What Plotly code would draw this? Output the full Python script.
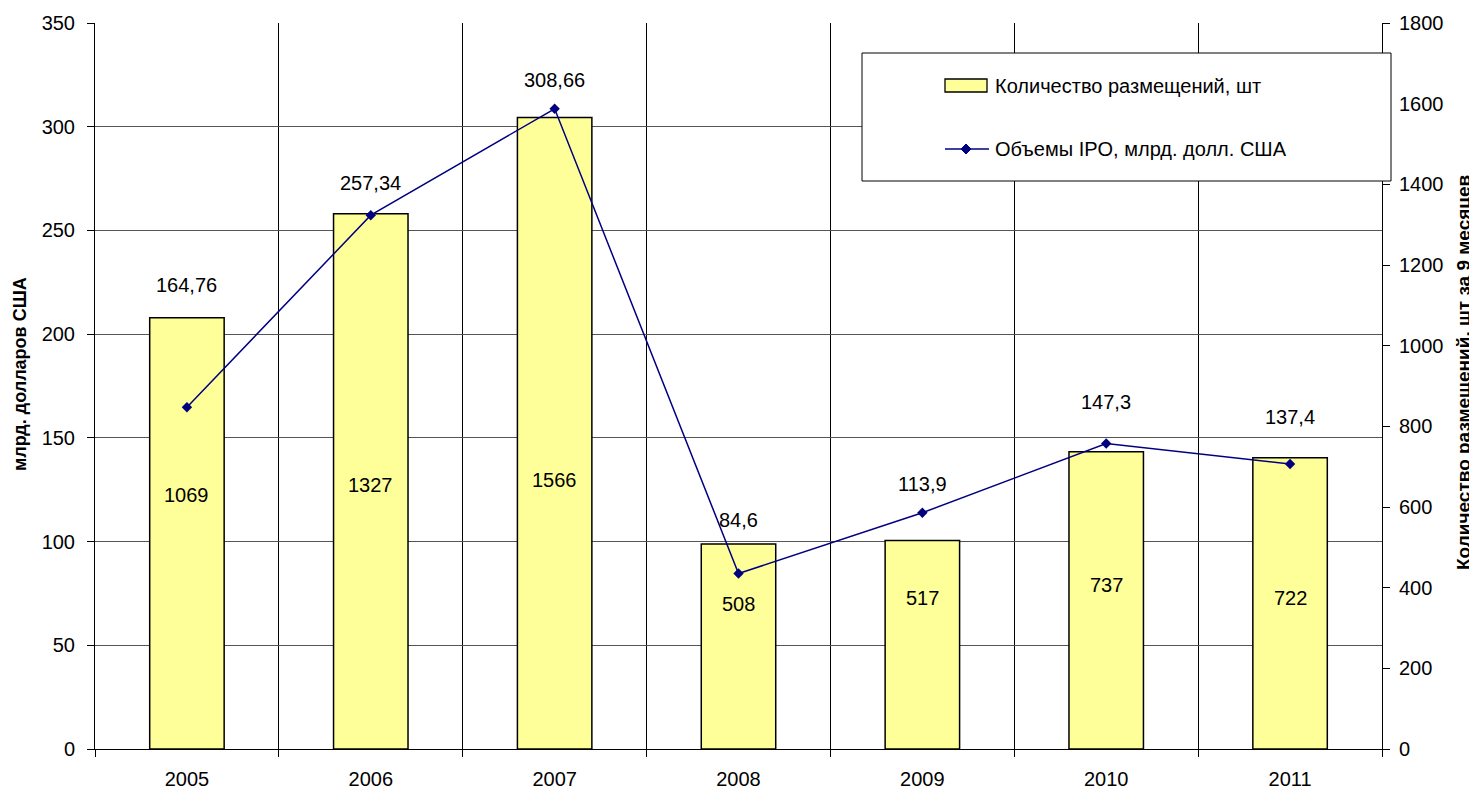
import plotly.graph_objects as go

# ---- data ----
years = ["2005", "2006", "2007", "2008", "2009", "2010", "2011"]
placements = [1069, 1327, 1566, 508, 517, 737, 722]          # right axis, bars
ipo_volume = [164.76, 257.34, 308.66, 84.6, 113.9, 147.3, 137.4]  # left axis, line
ipo_labels = ["164,76", "257,34", "308,66", "84,6", "113,9", "147,3", "137,4"]
placement_labels = ["1069", "1327", "1566", "508", "517", "737", "722"]

# label positions (left-axis units)
ipo_label_y = [223.7, 272.9, 322.5, 110.4, 127.8, 167.3, 160.1]
placement_label_y = [122.5, 127.3, 129.7, 69.9, 72.8, 79.1, 72.8]

FONT = "Liberation Sans, Arial, sans-serif"
SW, SH = 1477, 790          # screen size
OFF = 8                     # page body margin
W, H = SW - OFF, SH - OFF
L, R, T, B = 95, 1382, 23, 749   # plot area in screen pixels

def px(xp):
    return (xp - L) / (R - L)

def py(yp):
    return (B - yp) / (B - T)

fig = go.Figure()

fig.add_trace(go.Bar(
    x=years, y=placements, yaxis="y",
    marker=dict(color="#FFFF99", line=dict(color="black", width=1.5)),
    width=0.405, name="Количество размещений, шт", showlegend=False,
    hoverinfo="skip"))

fig.add_trace(go.Scatter(
    x=years, y=ipo_volume, yaxis="y2", mode="lines+markers",
    line=dict(color="#000080", width=1.5),
    marker=dict(symbol="diamond", size=8, color="#000080"),
    name="Объемы IPO, млрд. долл. США", showlegend=False, hoverinfo="skip"))

annotations = []
for i, (lab, yv) in enumerate(zip(ipo_labels, ipo_label_y)):
    annotations.append(dict(x=i, y=yv, xref="x", yref="y2", text=lab,
                            xanchor="center", yanchor="middle",
                            showarrow=False, font=dict(size=20, color="black", family=FONT)))
for i, (lab, yv) in enumerate(zip(placement_labels, placement_label_y)):
    annotations.append(dict(x=i, y=yv, xref="x", yref="y2", text=lab,
                            xanchor="center", yanchor="middle",
                            showarrow=False, font=dict(size=20, color="black", family=FONT)))

# axis titles
annotations.append(dict(x=px(20), y=py(374), xref="paper", yref="paper",
                        xanchor="center", yanchor="middle",
                        text="<b>млрд. долларов США</b>", textangle=-90, showarrow=False,
                        font=dict(size=18, color="black", family=FONT)))
annotations.append(dict(x=px(1463), y=py(373), xref="paper", yref="paper",
                        xanchor="center", yanchor="middle",
                        text="<b>Количество размещений, шт за 9 месяцев</b>", textangle=-90,
                        showarrow=False, font=dict(size=19, color="black", family=FONT)))

# legend texts
annotations.append(dict(x=px(993), y=py(86), xref="paper", yref="paper",
                        xanchor="left", yanchor="middle",
                        text="Количество размещений, шт", showarrow=False,
                        font=dict(size=20, color="black", family=FONT)))
annotations.append(dict(x=px(993), y=py(149), xref="paper", yref="paper",
                        xanchor="left", yanchor="middle",
                        text="Объемы IPO, млрд. долл. США", showarrow=False,
                        font=dict(size=20, color="black", family=FONT)))

shapes = [
    dict(type="rect", xref="paper", yref="paper", x0=px(862), x1=px(1391), y0=py(181), y1=py(53),
         fillcolor="white", line=dict(color="black", width=1)),
    dict(type="rect", xref="paper", yref="paper", x0=px(945), x1=px(987), y0=py(92), y1=py(79),
         fillcolor="#FFFF99", line=dict(color="black", width=1.3)),
    dict(type="line", xref="paper", yref="paper", x0=px(945), x1=px(989), y0=py(149), y1=py(149),
         line=dict(color="#000080", width=1.5)),
    dict(type="path", xref="paper", yref="paper",
         path="M {a},{b} L {c},{d} L {a},{e} L {f},{d} Z".format(
             a=px(966), b=py(144), c=px(971), d=py(149), e=py(154), f=px(961)),
         fillcolor="#000080", line=dict(color="#000080", width=1)),
]

tickfont = dict(size=20, color="black", family=FONT)

fig.update_layout(
    width=W, height=H,
    margin=dict(l=L - OFF, r=SW - R, t=T - OFF, b=SH - B, autoexpand=False),
    plot_bgcolor="white", paper_bgcolor="white",
    font=dict(family=FONT, size=20, color="black"),
    showlegend=False,
    xaxis=dict(type="category", range=[-0.5, 6.5], tickson="boundaries",
               showgrid=True, gridcolor="black", gridwidth=1,
               ticks="outside", ticklen=7, tickcolor="black",
               showline=True, linecolor="black", linewidth=1, automargin=False,
               tickfont=tickfont, ticklabelstandoff=12),
    yaxis=dict(side="right", range=[0, 1800], dtick=200, showgrid=False,
               ticks="outside", ticklen=7, tickcolor="black", automargin=False,
               showline=True, linecolor="black", linewidth=1,
               tickfont=tickfont, zeroline=False, ticklabelstandoff=5),
    yaxis2=dict(side="left", overlaying="y", range=[0, 350], dtick=50,
                showgrid=True, gridcolor="#555555", gridwidth=1, automargin=False,
                ticks="outside", ticklen=7, tickcolor="black",
                showline=True, linecolor="black", linewidth=1,
                tickfont=tickfont, zeroline=False, ticklabelstandoff=8),
    yaxis3=dict(side="right", overlaying="y", anchor="x", range=[0, 1800], dtick=200,
                showgrid=False, showticklabels=False, ticks="inside", ticklen=7,
                automargin=False,
                tickcolor="black", showline=False, zeroline=False),
    annotations=annotations,
    shapes=shapes,
)

fig.write_html("out.html")
